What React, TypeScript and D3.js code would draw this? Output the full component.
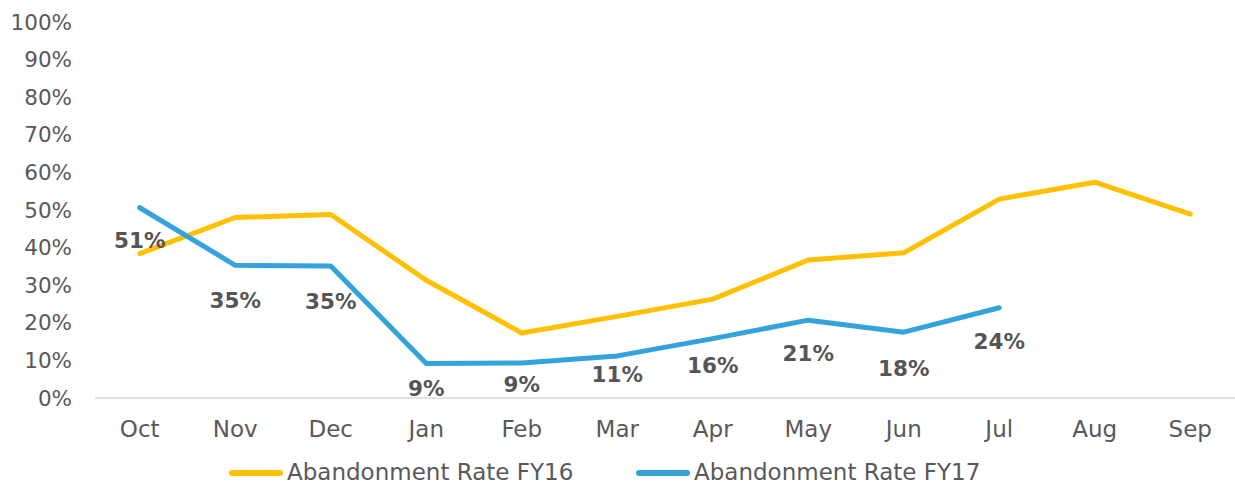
import React from "react";
import * as d3 from "d3";

const months = ["Oct", "Nov", "Dec", "Jan", "Feb", "Mar", "Apr", "May", "Jun", "Jul", "Aug", "Sep"];
const fy16 = [0.384, 0.48, 0.488, 0.313, 0.173, 0.217, 0.263, 0.367, 0.386, 0.529, 0.574, 0.489];
const fy17 = [0.506, 0.353, 0.351, 0.092, 0.093, 0.112, 0.158, 0.207, 0.175, 0.24];
const yTicks = [0, 0.1, 0.2, 0.3, 0.4, 0.5, 0.6, 0.7, 0.8, 0.9, 1];
const seriesNames = ["Abandonment Rate FY16", "Abandonment Rate FY17"];
const colors = ["#FFC000", "#34A3DB"];

const App = () => {
  const width = 1235;
  const height = 485;
  const font = "'DejaVu Sans', sans-serif";
  const textColor = "#595959";

  const x = d3.scaleBand<string>().domain(months).range([92, 1238]);
  const y = d3.scaleLinear().domain([0, 1]).range([398, 22]);
  const cx = (m: string) => (x(m) ?? 0) + x.bandwidth() / 2;
  const pct = d3.format(".0%");

  // labels were nudged by hand in the original, so keep per-label offsets
  const labelDy = [33, 35, 35, 25, 21, 19, 27, 33, 36, 34];

  const line = d3
    .line<number>()
    .x((_, i) => cx(months[i]))
    .y((d) => y(d));

  return (
    <svg
      width={width}
      height={height}
      style={{ position: "absolute", left: 0, top: 0, fontFamily: font }}
    >
      {/* y axis labels */}
      {yTicks.map((t) => (
        <text key={t} x={72} y={y(t)} dy="0.35em" textAnchor="end" fontSize={21.5} fill={textColor}>
          {pct(t)}
        </text>
      ))}
      {/* x axis */}
      <line x1={95} x2={1235} y1={y(0)} y2={y(0)} stroke="#D9D9D9" strokeWidth={1.5} />
      {months.map((m) => (
        <text key={m} x={cx(m)} y={429} dy="0.35em" textAnchor="middle" fontSize={23} fill={textColor}>
          {m}
        </text>
      ))}

      <path d={line(fy16) ?? ""} fill="none" stroke={colors[0]} strokeWidth={5} strokeLinecap="round" strokeLinejoin="round" />
      <path d={line(fy17) ?? ""} fill="none" stroke={colors[1]} strokeWidth={5} strokeLinecap="round" strokeLinejoin="round" />

      {/* data labels, FY17 */}
      {fy17.map((v, i) => (
        <text
          key={i}
          x={cx(months[i])}
          y={y(v) + labelDy[i]}
          dy="0.35em"
          textAnchor="middle"
          fontSize={21.5}
          fontWeight="bold"
          fill="#555555"
        >
          {pct(v)}
        </text>
      ))}

      {/* legend */}
      {seriesNames.map((name, i) => {
        const lx = i === 0 ? 230 : 637;
        return (
          <g key={name}>
            <line x1={lx + 2} x2={lx + 50} y1={473} y2={473} stroke={colors[i]} strokeWidth={6} strokeLinecap="round" />
            <text x={lx + 57} y={480} fontSize={23} fill={textColor}>
              {name}
            </text>
          </g>
        );
      })}
    </svg>
  );
};

export default App;
